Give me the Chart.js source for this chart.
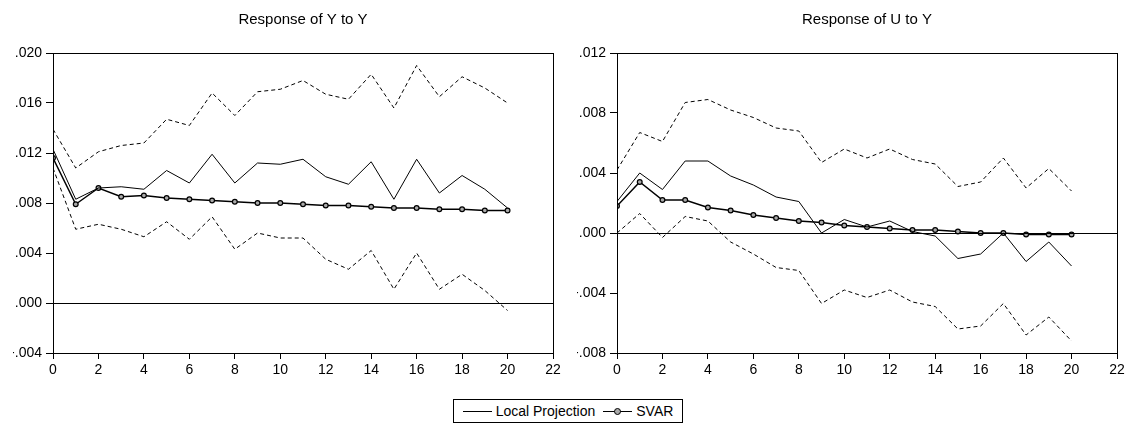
<!DOCTYPE html>
<html>
<head>
<meta charset="utf-8">
<script src="https://cdn.jsdelivr.net/npm/chart.js@4/dist/chart.umd.min.js"></script>
<style>
  html, body { margin: 0; padding: 0; background: #fff; }
  body { width: 1129px; height: 428px; position: relative; overflow: hidden; font-family: "Liberation Sans", Arial, sans-serif; }
  canvas { position: absolute; top: 0; }
  #legend {
    position: absolute; left: 453px; top: 399px; width: 230px; height: 24px;
    box-sizing: border-box; border: 1px solid #000; font-size: 14px; color: #000;
    display: flex; align-items: center; justify-content: center; gap: 4px;
  }
  .sample { position: relative; width: 29px; height: 0; border-top: 1px solid #000; }
  .dot { position: absolute; left: 11px; top: -4px; width: 5px; height: 5px; border: 1px solid #000; border-radius: 50%; background: #aaa; }
</style>
</head>
<body>
<canvas id="leftChart" width="565" height="390" style="left:0"></canvas>
<canvas id="rightChart" width="569" height="390" style="left:560px"></canvas>
<div id="legend">
  <span class="sample"></span><span>Local Projection</span>
  <span class="sample" style="margin-left:4px"><span class="dot"></span></span><span>SVAR</span>
</div>
<script>
// horizons 0..20
const horizons = [0, 1, 2, 3, 4, 5, 6, 7, 8, 9, 10, 11, 12, 13, 14, 15, 16, 17, 18, 19, 20];

// Response of Y to Y
const yyLocal = [0.0123, 0.0083, 0.0092, 0.0093, 0.0091, 0.0106, 0.0096, 0.0119, 0.0096, 0.0112, 0.0111, 0.0115, 0.0101, 0.0095, 0.0113, 0.0083, 0.0115, 0.0088, 0.0102, 0.0091, 0.0076];
const yyUpper = [0.0139, 0.0108, 0.0121, 0.0126, 0.0128, 0.0147, 0.0142, 0.0168, 0.0150, 0.0169, 0.0171, 0.0178, 0.0167, 0.0163, 0.0183, 0.0156, 0.0190, 0.0165, 0.0181, 0.0172, 0.0160];
const yyLower = [0.0108, 0.0059, 0.0063, 0.0059, 0.0053, 0.0065, 0.0051, 0.0069, 0.0043, 0.0056, 0.0052, 0.0052, 0.0035, 0.0027, 0.0042, 0.0011, 0.0040, 0.0011, 0.0023, 0.0010, -0.0006];
const yySvar = [0.0116, 0.0079, 0.0092, 0.0085, 0.0086, 0.0084, 0.0083, 0.0082, 0.0081, 0.0080, 0.0080, 0.0079, 0.0078, 0.0078, 0.0077, 0.0076, 0.0076, 0.0075, 0.0075, 0.0074, 0.0074];

// Response of U to Y
const uyLocal = [0.0021, 0.0040, 0.0029, 0.0048, 0.0048, 0.0038, 0.0032, 0.0024, 0.0021, 0.0000, 0.0009, 0.0004, 0.0008, 0.0001, -0.0002, -0.0017, -0.0014, 0.0000, -0.0019, -0.0006, -0.0022];
const uyUpper = [0.0042, 0.0067, 0.0061, 0.0087, 0.0089, 0.0082, 0.0077, 0.0070, 0.0068, 0.0047, 0.0056, 0.0050, 0.0056, 0.0049, 0.0046, 0.0031, 0.0034, 0.0050, 0.0030, 0.0043, 0.0028];
const uyLower = [0.0000, 0.0013, -0.0003, 0.0011, 0.0008, -0.0006, -0.0014, -0.0023, -0.0025, -0.0047, -0.0038, -0.0043, -0.0038, -0.0046, -0.0049, -0.0064, -0.0062, -0.0047, -0.0068, -0.0056, -0.0072];
const uySvar = [0.0018, 0.0034, 0.0022, 0.0022, 0.0017, 0.0015, 0.0012, 0.0010, 0.0008, 0.0007, 0.0005, 0.0004, 0.0003, 0.0002, 0.0002, 0.0001, 0.0000, 0.0000, -0.0001, -0.0001, -0.0001];

const FONT = "'Liberation Sans', Arial, sans-serif";

const toPoints = (vals) => horizons.map((h, i) => ({ x: h, y: vals[i] }));

// eviews style tick label: .012, -.004
const fmt = (v) => {
  const r = Math.round(v * 1000) / 1000;
  if (r === 0) return '.000';
  return (r < 0 ? '-' : '') + Math.abs(r).toFixed(3).replace(/^0/, '');
};

// frame around plot area + zero line
const framePlugin = {
  id: 'frame',
  afterDatasetsDraw(chart) {
    const { ctx, chartArea, scales } = chart;
    ctx.save();
    ctx.strokeStyle = '#000';
    ctx.lineWidth = 1;
    const y0 = Math.round(scales.y.getPixelForValue(0)) + 0.5;
    ctx.beginPath();
    ctx.moveTo(chartArea.left, y0);
    ctx.lineTo(chartArea.right, y0);
    ctx.stroke();
    ctx.strokeRect(Math.round(chartArea.left) + 0.5, Math.round(chartArea.top) + 0.5,
      Math.round(chartArea.right - chartArea.left), Math.round(chartArea.bottom - chartArea.top));
    ctx.restore();
  }
};

const makeChart = (id, title, local, upper, lower, svar, yMin, yMax, padLeft, padRight) => {
  const ctx = document.getElementById(id).getContext('2d');
  return new Chart(ctx, {
    type: 'line',
    data: {
      datasets: [
        { data: toPoints(upper), borderColor: '#000', borderWidth: 1, borderDash: [4, 3], pointRadius: 0, tension: 0 },
        { data: toPoints(lower), borderColor: '#000', borderWidth: 1, borderDash: [4, 3], pointRadius: 0, tension: 0 },
        { data: toPoints(local), borderColor: '#000', borderWidth: 1, pointRadius: 0, tension: 0 },
        {
          data: toPoints(svar), borderColor: '#000', borderWidth: 1.5, tension: 0,
          pointRadius: 2.4, pointBorderWidth: 1.2, pointBorderColor: '#000', pointBackgroundColor: '#aaa'
        },
      ],
    },
    plugins: [framePlugin],
    options: {
      responsive: false,
      animation: false,
      devicePixelRatio: 1,
      layout: { padding: { left: padLeft, right: padRight, top: 0, bottom: 7 } },
      plugins: {
        legend: { display: false },
        tooltip: { enabled: false },
        title: {
          display: true,
          text: title,
          fullSize: false,
          color: '#000',
          font: { family: FONT, size: 15, weight: 'normal', lineHeight: 1.2 },
          padding: { top: 11, bottom: 24 },
        },
      },
      scales: {
        x: {
          type: 'linear',
          min: 0,
          max: 22,
          afterFit: (scale) => { scale.height = 30; },
          border: { display: false },
          grid: { drawOnChartArea: false, drawTicks: true, tickLength: 6, color: '#000' },
          ticks: { stepSize: 2, color: '#000', padding: 3, maxRotation: 0, font: { family: FONT, size: 14 } },
        },
        y: {
          min: yMin,
          max: yMax,
          afterFit: (scale) => { scale.width = 40; },
          border: { display: false },
          grid: { drawOnChartArea: false, drawTicks: true, tickLength: 7, color: '#000' },
          ticks: { stepSize: 0.004, color: '#000', padding: 4, font: { family: FONT, size: 14 }, callback: (v) => fmt(v) },
        },
      },
    },
  });
};

makeChart('leftChart', 'Response of Y to Y', yyLocal, yyUpper, yyLower, yySvar, -0.004, 0.020, 13, 12);
makeChart('rightChart', 'Response of U to Y', uyLocal, uyUpper, uyLower, uySvar, -0.008, 0.012, 17, 12);
</script>
</body>
</html>
